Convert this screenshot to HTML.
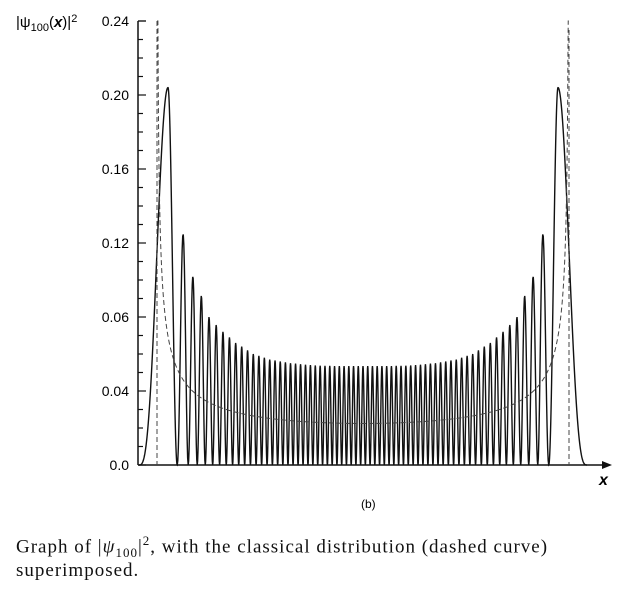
<!DOCTYPE html>
<html><head><meta charset="utf-8"><style>
body{margin:0;background:#fff;width:638px;height:600px;overflow:hidden}
svg{display:block}
.cap{position:absolute;left:16px;font-family:"Liberation Serif",serif;font-size:19px;letter-spacing:1px;color:#111;white-space:nowrap}
</style></head><body>
<div style="position:relative;width:638px;height:600px">
<svg id="chart" width="638" height="520"></svg>
<div class="cap" style="top:533px">Graph of |<i>ψ</i><sub style="font-size:13px">100</sub>|<sup style="font-size:13px">2</sup>, with the classical distribution (dashed curve)</div>
<div class="cap" style="top:560px">superimposed.</div>
</div>
<script>
// data: lobe peak heights, outer lobe first, toward center (mirrored on right)
const peakHeights=[0.204,0.125,0.102,0.0915,0.080,0.0757,0.072,0.069,0.066,0.064,0.062,0.060,0.059,0.058,0.057,0.0565,0.056,0.0555,0.055,0.0548,0.0545,0.0542,0.054,0.0538,0.0537,0.0536,0.0536,0.0535,0.0535,0.0535,0.0535,0.0535,0.0535,0.0535];
const yTicks=[0,0.04,0.08,0.12,0.16,0.20,0.24];
const yTickLabels=["0.0","0.04","0.06","0.12","0.16","0.20","0.24"];
const classicalHalfWidth=[206];
const NS="http://www.w3.org/2000/svg";
const svg=document.getElementById('chart');
const x0=138,xEnd=612,cx=363,yZero=465,yPer=1850;
const nl=2*peakHeights.length-1;
const A=Math.sqrt(2*nl-1);
const sc=200/A;
const X=d=>cx+d*sc, Y=v=>yZero-v*yPer;
function mk(t,a,name,inter){const e=document.createElementNS(NS,t);for(const k in a)e.setAttribute(k,a[k]);


svg.appendChild(e);return e;}
function txt(x,y,s,name,extra){const t=mk('text',Object.assign({x:x,y:y,'font-family':'Liberation Sans, sans-serif','font-size':'14'},extra||{}),name,false);t.textContent=s;return t;}
mk('line',{x1:x0,y1:21,x2:x0,y2:yZero,stroke:'#111','stroke-width':1.5},'y-axis',false);
mk('line',{x1:x0,y1:yZero,x2:xEnd-6,y2:yZero,stroke:'#111','stroke-width':1.5},'x-axis',false);
mk('path',{d:`M${xEnd},${yZero} L${xEnd-10},${yZero-4} L${xEnd-10},${yZero+4}Z`,fill:'#111'},'x-axis-arrow',false);
for(let i=0;i<=24;i++){const y=Y(i*0.01);mk('line',{x1:x0,y1:y,x2:x0+(i%4==0?8:5),y2:y,stroke:'#111','stroke-width':1.2},'y-tick',false);}
mk('line',{x1:x0,y1:21,x2:x0+8,y2:21,stroke:'#111','stroke-width':1.2},'y-tick-top',false);
yTicks.forEach((v,i)=>{txt(129,Y(v)+5,yTickLabels[i],'y-tick-label',{'text-anchor':'end'});});
const yt=txt(16,27,'','y-axis-title',{'font-size':'15'});
yt.innerHTML='|ψ<tspan font-size="11" dy="4">100</tspan><tspan dy="-4">(</tspan><tspan font-style="italic" font-weight="bold">x</tspan>)|<tspan font-size="11" dy="-5">2</tspan>';
txt(599,485,'x','x-axis-title',{'font-size':'16','font-style':'italic','font-weight':'bold'});
txt(361,508,'(b)','panel-label',{'font-size':'12'});
function phi(x){const N=300;let s=0;const a=-A,h=(x-a)/N;for(let i=0;i<N;i++){const t=a+(i+0.5)*h;s+=Math.sqrt(Math.max(0,A*A-t*t))*h;}return s;}
const zeros=[];
for(let k=0;k<nl-1;k++){const target=(k+0.75)*Math.PI;let lo=-A,hi=A;for(let j=0;j<40;j++){const m=(lo+hi)/2;if(phi(m)<target)lo=m;else hi=m;}zeros.push(lo);}
const H=k=>peakHeights[Math.min(k,nl-1-k)];
const L=-A-24/sc, pk=-A+5/sc;
function outer(x,z,h,sign){
  const u=sign*x, zz=sign*z;
  if(u<pk){const t=(u-L)/(pk-L);return h*Math.pow(Math.sin(Math.PI/2*Math.max(0,t)),3);}
  return h*Math.pow(Math.sin(Math.PI/2*(zz-u)/(zz-pk)),2);}
const pts=[];
for(let x=L;x<=zeros[0];x+=0.005)pts.push([x,outer(x,zeros[0],H(0),1)]);
for(let k=1;k<nl-1;k++){const a=zeros[k-1],b=zeros[k],pa=phi(a),pb=phi(b);
  for(let i=0;i<=20;i++){const x=a+(b-a)*i/20;const f=(phi(x)-pa)/(pb-pa);pts.push([x,H(k)*Math.pow(Math.sin(Math.PI*f),2)]);}}
const zl=zeros[zeros.length-1];
for(let x=zl;x<=-L;x+=0.005)pts.push([x,outer(x,zl,H(nl-1),-1)]);
const d=pts.map((p,i)=>(i?'L':'M')+X(p[0]).toFixed(2)+','+Y(p[1]).toFixed(2)).join('');
mk('path',{d:d,fill:'none',stroke:'#111','stroke-width':1.4},'psi-squared-curve',false);
const Ac=classicalHalfWidth[0]/14.53;
const cp=[];
for(let x=-Ac+0.002;x<Ac;x+=0.02){const v=Math.min(0.25,1/(Math.PI*Math.sqrt(Ac*Ac-x*x)));cp.push([cx+x*14.53,v]);}
const cd=cp.map((p,i)=>(i?'L':'M')+p[0].toFixed(2)+','+Math.max(21,Y(p[1])).toFixed(2)).join('');
mk('path',{d:cd,fill:'none',stroke:'#444','stroke-width':1,'stroke-dasharray':'5,3'},'classical-distribution-curve',false);
mk('line',{x1:cx-classicalHalfWidth[0],y1:21,x2:cx-classicalHalfWidth[0],y2:yZero,stroke:'#444','stroke-width':1,'stroke-dasharray':'5,3'},'classical-left-turning-line',false);
mk('line',{x1:cx+classicalHalfWidth[0],y1:30,x2:cx+classicalHalfWidth[0],y2:yZero,stroke:'#444','stroke-width':1,'stroke-dasharray':'5,3'},'classical-right-turning-line',false);
</script>
</body></html>
